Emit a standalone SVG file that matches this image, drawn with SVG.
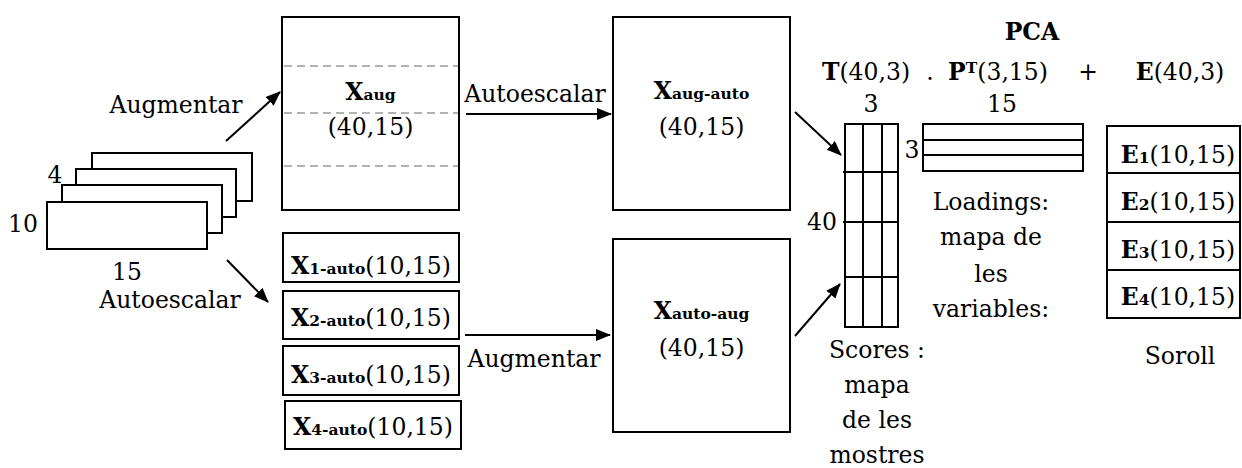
<svg xmlns="http://www.w3.org/2000/svg" width="1242" height="468" viewBox="0 0 1242 468" font-family="'DejaVu Serif', serif">
<defs>
<marker id="ah" markerUnits="userSpaceOnUse" markerWidth="16" markerHeight="14" refX="14" refY="6" orient="auto">
<path d="M0,0 L15,6 L0,12 z" fill="#000"/>
</marker>
</defs>
<style>
text{font-family:'DejaVu Serif',serif;font-size:23.5px;fill:#000}
.b{font-weight:bold}
.s{font-size:15.5px;font-weight:bold}
.m{text-anchor:middle}
.e{text-anchor:end}
.box{fill:#fff;stroke:#000;stroke-width:2}
.ln{stroke:#000;stroke-width:2;fill:none}
.dash{stroke:#999;stroke-width:1.5;stroke-dasharray:8 5}
.arr{stroke:#000;stroke-width:2;fill:none;marker-end:url(#ah)}
</style>
<rect width="1242" height="468" fill="#fff"/>

<g id="stack">
<rect class="box" x="92" y="153" width="160" height="48"/>
<rect class="box" x="76" y="169" width="160" height="48"/>
<rect class="box" x="62" y="185" width="160" height="48"/>
<rect class="box" x="47" y="202" width="160" height="47"/>
<text x="55" y="183" class="m">4</text>
<text x="38" y="232" class="e">10</text>
<text x="127" y="280" class="m">15</text>
</g>

<g id="Xaug">
<rect class="box" x="282" y="17" width="177" height="193"/>
<line class="dash" x1="284" y1="66" x2="458" y2="66"/>
<line class="dash" x1="284" y1="113" x2="458" y2="113"/>
<line class="dash" x1="284" y1="166" x2="458" y2="166"/>
<text x="370.5" y="100" class="m"><tspan class="b">X</tspan><tspan class="s">aug</tspan></text>
<text x="370.5" y="135" class="m">(40,15)</text>
</g>

<g id="X1auto">
<rect class="box" x="283" y="233" width="176" height="49"/>
<text x="371" y="274" class="m"><tspan class="b">X</tspan><tspan class="s">1-auto</tspan>(10,15)</text>
</g>
<g id="X2auto">
<rect class="box" x="283" y="291" width="176" height="48"/>
<text x="371" y="326" class="m"><tspan class="b">X</tspan><tspan class="s">2-auto</tspan>(10,15)</text>
</g>
<g id="X3auto">
<rect class="box" x="283" y="346" width="176" height="49"/>
<text x="371" y="383" class="m"><tspan class="b">X</tspan><tspan class="s">3-auto</tspan>(10,15)</text>
</g>
<g id="X4auto">
<rect class="box" x="285" y="401" width="176" height="48"/>
<text x="373" y="435" class="m"><tspan class="b">X</tspan><tspan class="s">4-auto</tspan>(10,15)</text>
</g>

<g id="Xaugauto">
<rect class="box" x="613" y="17" width="177" height="193"/>
<text x="701.5" y="99" class="m"><tspan class="b">X</tspan><tspan class="s">aug-auto</tspan></text>
<text x="701.5" y="135" class="m">(40,15)</text>
</g>

<g id="Xautoaug">
<rect class="box" x="613" y="239" width="177" height="193"/>
<text x="701.5" y="319" class="m"><tspan class="b">X</tspan><tspan class="s">auto-aug</tspan></text>
<text x="701.5" y="356" class="m">(40,15)</text>
</g>

<g id="header">
<text x="1032" y="40" class="m b">PCA</text>
<text x="866" y="80" class="m"><tspan class="b">T</tspan>(40,3)</text>
<text x="930" y="80" class="m">.</text>
<text x="998" y="80" class="m"><tspan class="b">P</tspan><tspan class="s" dy="-7">T</tspan><tspan dy="7">(3,15)</tspan></text>
<text x="1088" y="80" class="m">+</text>
<text x="1180" y="80" class="m"><tspan class="b">E</tspan>(40,3)</text>
</g>

<g id="T">
<rect class="ln" x="845" y="124" width="53" height="203"/>
<line class="ln" x1="863" y1="124" x2="863" y2="327"/>
<line class="ln" x1="882" y1="124" x2="882" y2="327"/>
<line class="ln" x1="843" y1="172" x2="898" y2="172"/>
<line class="ln" x1="843" y1="222" x2="898" y2="222"/>
<line class="ln" x1="845" y1="277" x2="898" y2="277"/>
<text x="871" y="112" class="m">3</text>
<text x="837" y="230" class="e">40</text>
<text x="877" y="358" class="m">Scores :</text>
<text x="877" y="393" class="m">mapa</text>
<text x="877" y="428" class="m">de les</text>
<text x="877" y="463" class="m">mostres</text>
</g>

<g id="P">
<rect class="ln" x="923" y="124" width="160" height="47"/>
<line class="ln" x1="923" y1="140" x2="1083" y2="140"/>
<line class="ln" x1="923" y1="155" x2="1083" y2="155"/>
<text x="1002" y="112" class="m">15</text>
<text x="912" y="158" class="m">3</text>
<text x="991" y="210" class="m">Loadings:</text>
<text x="991" y="245" class="m">mapa de</text>
<text x="991" y="282" class="m">les</text>
<text x="991" y="317" class="m">variables:</text>
</g>

<g id="E">
<rect class="ln" x="1107" y="126" width="133" height="192"/>
<line class="ln" x1="1107" y1="173" x2="1240" y2="173"/>
<line class="ln" x1="1107" y1="222" x2="1240" y2="222"/>
<line class="ln" x1="1107" y1="270" x2="1240" y2="270"/>
<text x="1178" y="163" class="m"><tspan class="b">E</tspan><tspan class="s">1</tspan>(10,15)</text>
<text x="1178" y="210" class="m"><tspan class="b">E</tspan><tspan class="s">2</tspan>(10,15)</text>
<text x="1178" y="258" class="m"><tspan class="b">E</tspan><tspan class="s">3</tspan>(10,15)</text>
<text x="1178" y="305" class="m"><tspan class="b">E</tspan><tspan class="s">4</tspan>(10,15)</text>
<text x="1180" y="364" class="m">Soroll</text>
</g>

<g id="connectors">
<line class="arr" x1="226" y1="141" x2="280" y2="92"/>
<line class="arr" x1="227" y1="260" x2="268" y2="302"/>
<line class="arr" x1="466" y1="114" x2="611" y2="114"/>
<line class="arr" x1="465" y1="335" x2="610" y2="335"/>
<line class="arr" x1="795" y1="112" x2="841" y2="155"/>
<line class="arr" x1="795" y1="336" x2="840" y2="284"/>
<text x="176" y="113" class="m">Augmentar</text>
<text x="170" y="308" class="m">Autoescalar</text>
<text x="535" y="102" class="m">Autoescalar</text>
<text x="534" y="367" class="m">Augmentar</text>
</g>
</svg>
